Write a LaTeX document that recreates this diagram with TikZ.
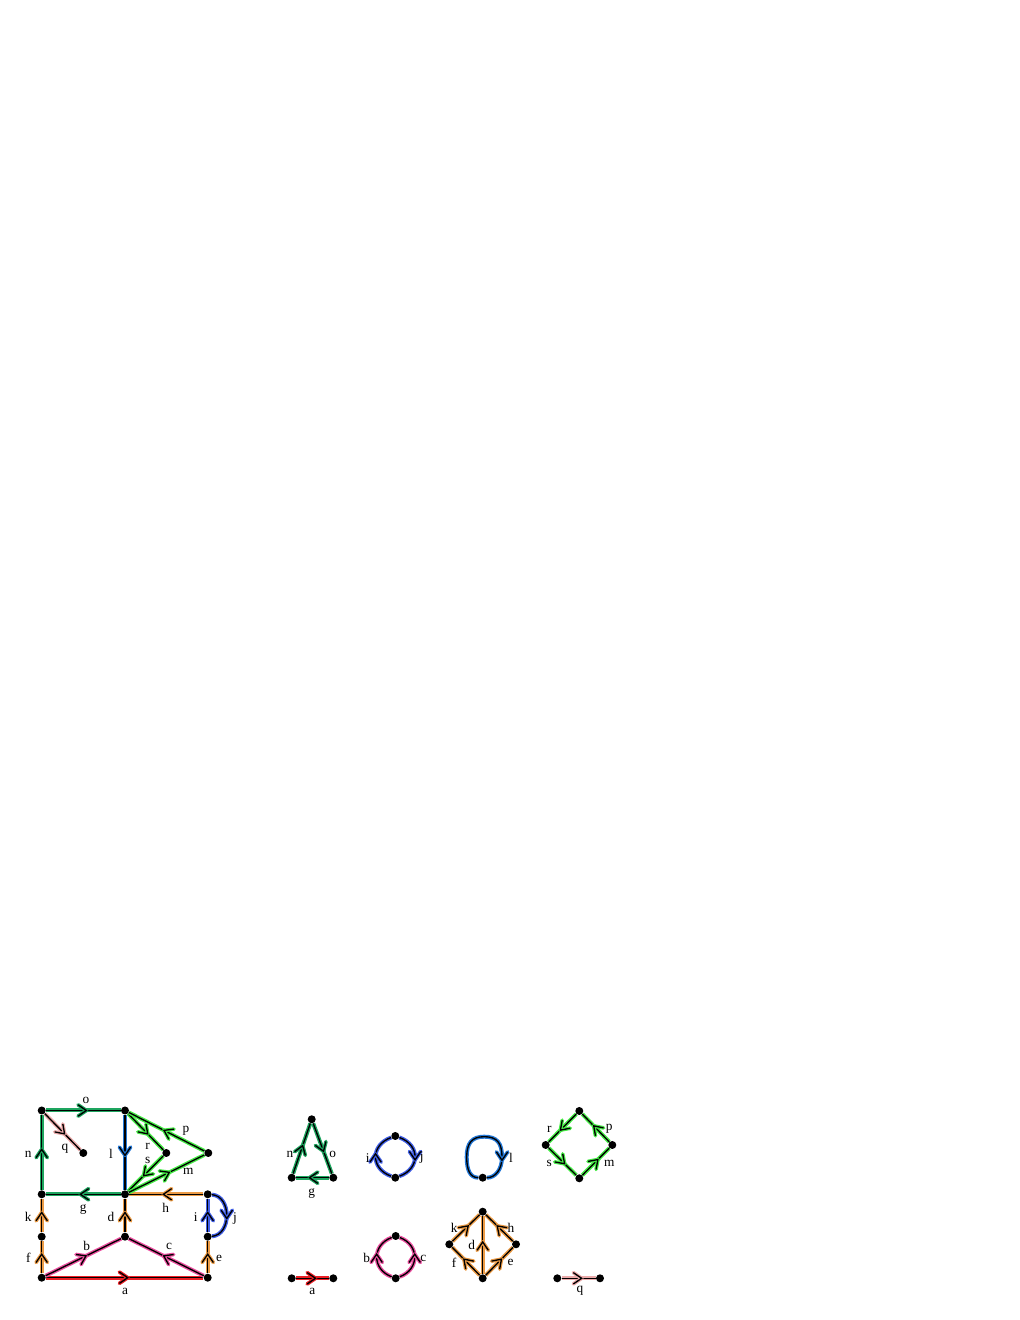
\documentclass[tikz,border=0pt]{standalone}
\usepackage{fontspec}
\setmainfont{Liberation Serif}
\usetikzlibrary{decorations.markings}
\definecolor{cred}{RGB}{235,30,36}
\definecolor{cpink}{RGB}{235,80,160}
\definecolor{corange}{RGB}{235,155,70}
\definecolor{cblue}{RGB}{65,95,230}
\definecolor{cblueL}{RGB}{35,120,215}
\definecolor{cgreen}{RGB}{30,165,95}
\definecolor{clime}{RGB}{70,235,70}
\definecolor{clpink}{RGB}{235,170,170}
\tikzset{
  apos/.store in=\apos, apos=0.5,
  dot/.style={circle, fill=black, inner sep=0pt, minimum size=4.8pt},
  lab/.style={font=\fontsize{8}{9.6}\selectfont, inner sep=0pt},
  ed/.style={draw=#1, line width=2.4pt,
    postaction={draw=black, line width=0.8pt},
    postaction={decorate, decoration={markings, mark=at position \apos with {
      \draw[#1, line width=2.2pt, line join=round, line cap=round] (-3.2pt,-3.4pt) -- (1.8pt,0pt) -- (-3.2pt,3.4pt);
      \draw[black, line width=0.8pt] (-3.2pt,-3.4pt) -- (1.8pt,0pt) -- (-3.2pt,3.4pt);}}}}
}
\begin{document}
\begin{tikzpicture}[x=0.6pt,y=0.6pt]
\useasboundingbox (0,0) rectangle (1020,1320);
% ---------- main graph ----------
\node[dot] (A) at (41.7,209.5) {};
\node[dot] (B) at (125,209.5) {};
\node[dot] (Q) at (83.3,167) {};
\node[dot] (R) at (166.3,167) {};
\node[dot] (P) at (208.3,167) {};
\node[dot] (G) at (41.7,125.7) {};
\node[dot] (C) at (125,125.7) {};
\node[dot] (H) at (207.7,125.7) {};
\node[dot] (K) at (41.7,83.3) {};
\node[dot] (D) at (125,83.3) {};
\node[dot] (E) at (207.7,83.3) {};
\node[dot] (L) at (41.7,42.3) {};
\node[dot] (M) at (207.7,42.3) {};
\draw[ed=cred] (L) -- (M);
\draw[ed=cpink] (L) -- (D);
\draw[ed=cpink] (M) -- (D);
\draw[ed=corange] (D) -- (C);
\draw[ed=corange] (M) -- (E);
\draw[ed=corange] (L) -- (K);
\draw[ed=corange] (K) -- (G);
\draw[ed=corange] (H) -- (C);
\draw[ed=cblue] (E) -- (H);
\draw[ed=cblue] (H) .. controls +(24,-2) and +(24,2) .. (E);
\draw[ed=cgreen] (C) -- (G);
\draw[ed=cgreen] (G) -- (A);
\draw[ed=cgreen] (A) -- (B);
\draw[ed=clpink] (A) -- (Q);
\draw[ed=cblueL] (B) -- (C);
\draw[ed=clime] (B) -- (R);
\draw[ed=clime] (R) -- (C);
\draw[ed=clime] (P) -- (B);
\draw[ed=clime] (C) -- (P);
\node[lab] (ta) at (125,28.3) {a};
\node[lab] (tb) at (86.7,74) {b};
\node[lab] (tc) at (169,74) {c};
\node[lab] (td) at (111,103.3) {d};
\node[lab] (te) at (219,61.7) {e};
\node[lab] (tf) at (28.3,62.3) {f};
\node[lab] (tk) at (28.3,103.3) {k};
\node[lab] (th) at (165.7,111.7) {h};
\node[lab] (ti) at (195.7,103.3) {i};
\node[lab] (tj) at (235,101.7) {j};
\node[lab] (tg) at (83.3,110) {g};
\node[lab] (tn) at (28.3,165.7) {n};
\node[lab] (tq) at (65,171.7) {q};
\node[lab] (tl) at (111,165.7) {l};
\node[lab] (tr) at (147.7,174) {r};
\node[lab] (ts) at (147.7,160) {s};
\node[lab] (tp) at (186,189) {p};
\node[lab] (tm) at (188.3,149) {m};
\node[lab] (to) at (86,220) {o};
% ---------- triangle n o g ----------
\node[dot] (T1) at (311.7,200.7) {};
\node[dot] (T2) at (291.7,142.3) {};
\node[dot] (T3) at (333.3,142.3) {};
\draw[ed=cgreen] (T2) -- (T1);
\draw[ed=cgreen] (T1) -- (T3);
\draw[ed=cgreen] (T3) -- (T2);
\node[lab] (u1) at (290,165.7) {n};
\node[lab] (u2) at (332.7,165.7) {o};
\node[lab] (u3) at (311.7,126.7) {g};
% ---------- i j ----------
\node[dot] (IT) at (395.3,184) {};
\node[dot] (IB) at (395.3,142.3) {};
\draw[ed=cblue] (IB) .. controls +(-25,9) and +(-25,-9) .. (IT);
\draw[ed=cblue] (IT) .. controls +(25,-9) and +(25,9) .. (IB);
\node[lab] (u4) at (367.7,162.3) {i};
\node[lab] (u5) at (421.7,162.3) {j};
% ---------- l loop ----------
\node[dot] (LN) at (482.7,142.3) {};
\draw[ed=cblueL, apos=0.76] (LN) .. controls (470,142.3) and (466.7,150) .. (466.7,163)
  .. controls (466.7,177) and (472,183.3) .. (484.3,183.3)
  .. controls (497,183.3) and (502,177) .. (502,163)
  .. controls (502,150) and (495,142.3) .. (LN);
\node[lab] (u6) at (511,162.3) {l};
% ---------- diamond r s p m ----------
\node[dot] (DT) at (579.3,209) {};
\node[dot] (DL) at (545.7,175) {};
\node[dot] (DR) at (612.3,175) {};
\node[dot] (DB) at (579.3,141.7) {};
\draw[ed=clime] (DT) -- (DL);
\draw[ed=clime] (DL) -- (DB);
\draw[ed=clime] (DB) -- (DR);
\draw[ed=clime] (DR) -- (DT);
\node[lab] (u7) at (549.3,190.7) {r};
\node[lab] (u8) at (609.3,191.7) {p};
\node[lab] (u9) at (549.3,156.7) {s};
\node[lab] (u10) at (609.3,156.7) {m};
% ---------- a ----------
\node[dot] (AL) at (291.7,41.7) {};
\node[dot] (AR) at (333.3,41.7) {};
\draw[ed=cred] (AL) -- (AR);
\node[lab] (u11) at (312.3,28.3) {a};
% ---------- b c ----------
\node[dot] (BT) at (395.7,84) {};
\node[dot] (BB) at (395.7,41.7) {};
\draw[ed=cpink] (BB) .. controls +(-24,9) and +(-24,-9) .. (BT);
\draw[ed=cpink] (BB) .. controls +(24,9) and +(24,-9) .. (BT);
\node[lab] (u12) at (366.7,61.7) {b};
\node[lab] (u13) at (423.3,61.7) {c};
% ---------- d e f h k ----------
\node[dot] (OT) at (482.7,108.3) {};
\node[dot] (OL) at (449.3,75.7) {};
\node[dot] (OR) at (516,75.7) {};
\node[dot] (OB) at (482.7,41.7) {};
\draw[ed=corange] (OB) -- (OT);
\draw[ed=corange] (OL) -- (OT);
\draw[ed=corange] (OR) -- (OT);
\draw[ed=corange] (OB) -- (OL);
\draw[ed=corange] (OB) -- (OR);
\node[lab] (u14) at (454.3,91.7) {k};
\node[lab] (u15) at (511,91.7) {h};
\node[lab] (u16) at (471.7,75) {d};
\node[lab] (u17) at (454,57.3) {f};
\node[lab] (u18) at (510.7,57.3) {e};
% ---------- q ----------
\node[dot] (QL) at (557.3,41.7) {};
\node[dot] (QR) at (600,41.7) {};
\draw[ed=clpink] (QL) -- (QR);
\node[lab] (u19) at (580,29.3) {q};
\end{tikzpicture}
\end{document}
